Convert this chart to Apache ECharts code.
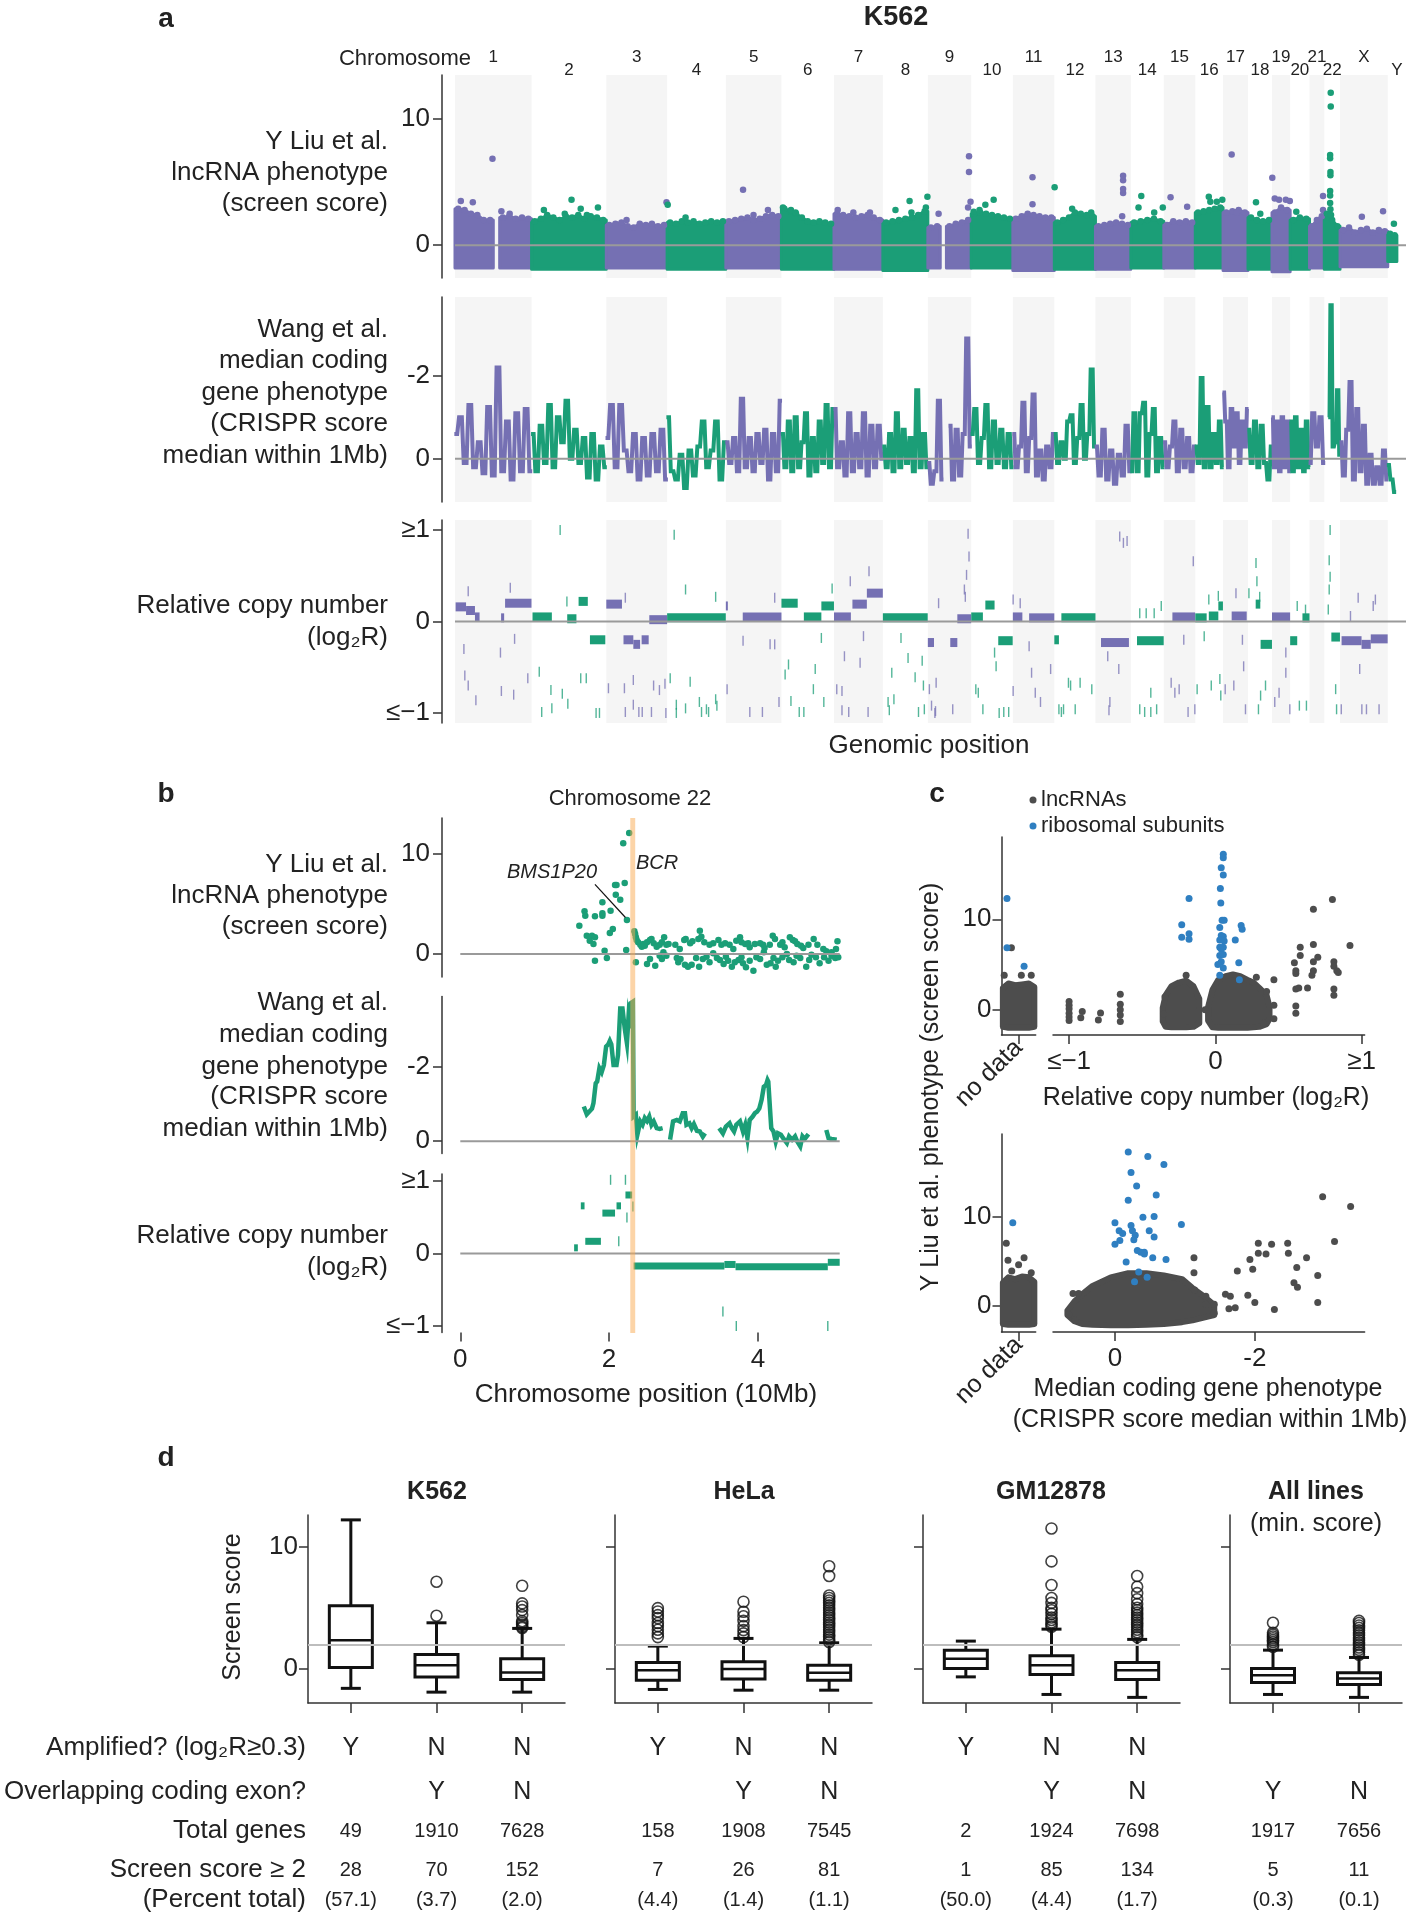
<!DOCTYPE html>
<html><head><meta charset="utf-8">
<script src="https://cdn.jsdelivr.net/npm/echarts@6.0.0/dist/echarts.min.js"></script>
<style>html,body{margin:0;padding:0;background:#fff}#chart{width:1419px;height:1920px}</style>
</head><body><div id="chart"></div>
<script>
// ================= DATA =================
const chrNames = ['1','2','3','4','5','6','7','8','9','10','11','12','13','14','15','16','17','18','19','20','21','22','X','Y'];
const chrLen = [249.3,243.2,198.0,191.2,180.9,171.1,159.1,146.4,141.2,135.5,135.0,133.9,115.2,107.3,102.5,90.4,81.2,78.1,59.1,63.0,48.1,51.3,155.3,59.4];

// (a) Liu lncRNA screen score: upper envelope of the dense point band per chromosome (evenly spaced bins), band floor, and individual points above the band
const liuTop = [
 [2.9,2.8,2.5,2.4,2.0,2.0,null,2.2,2.3,2.1,2.2,2.1],
 [1.9,2.1,2.4,2.2,2.0,2.3,2.2,2.4,2.1,2.3,2.2,2.0],
 [1.6,1.7,1.8,1.5,1.4,1.7,1.6,1.7,1.5,1.6],
 [1.8,1.7,1.9,1.8,1.9,1.7,1.8,1.9,1.8,1.9],
 [1.9,2.0,2.1,2.2,2.0,2.1,2.3,2.4,2.3],
 [2.9,2.7,2.5,2.2,1.9,1.8,1.9,1.8,1.7],
 [2.5,2.4,2.3,2.2,2.3,2.4,2.2,2.0],
 [1.8,1.9,2.0,2.1,2.2,2.4,2.7],
 [1.4,1.5,null,1.5,1.7,1.8,2.0],
 [2.5,2.6,2.5,2.4,2.3,2.2,2.1],
 [2.1,2.3,2.5,2.4,2.3,2.2,2.2],
 [1.8,2.0,2.2,2.6,2.5,2.4,2.3],
 [1.5,1.6,1.7,1.8,1.7,1.6],
 [1.8,1.9,2.0,2.1,1.9],
 [1.6,1.9,1.8,1.9,1.8],
 [2.6,2.7,2.8,2.9,3.0],
 [2.6,2.7,2.8,2.6],
 [2.2,2.0,1.9,2.0],
 [2.6,3.0,2.8],
 [2.0,2.2,2.1],
 [1.5,2.0,2.3],
 [2.5,2.0,1.5],
 [1.2,1.4,1.0,1.2,1.3,1.0,1.2,1.1],
 [0.9,0.8,null,null]
];
const liuBottom = [-1.8,-1.9,-1.8,-1.9,-1.8,-1.9,-1.9,-2.0,-1.8,-1.8,-2.0,-1.9,-1.9,-1.8,-1.8,-1.8,-2.0,-1.9,-2.1,-1.9,-1.8,-1.9,-1.7,-1.3];
const liuPoints = [
 ['1',19,3.5],['1',58,3.4],['1',122,6.85],['1',151,2.7],['1',178,2.5],
 ['2',40,2.8],['2',108,2.5],['2',130,3.6],['2',160,2.9],['2',180,2.4],['2',216,3.0],
 ['3',66,2.0],['3',196,3.4],['4',2,3.2],['4',60,2.2],
 ['5',56,4.4],['5',90,2.4],['5',137,2.8],['6',5,3.0],['6',31,2.8],['6',46,2.6],
 ['7',12,2.8],['7',63,2.6],['7',117,2.6],['8',41,2.8],['8',87,3.5],['8',93,2.6],['8',140,3.0],['8',145,3.85],
 ['9',35,2.5],['9',131,3.0],['9',134,5.8],['9',134,7.05],['9',139,3.45],
 ['10',8,2.65],['10',27,2.8],['10',46,3.2],['10',73,3.6],['11',64,3.25],['11',64,5.4],
 ['12',1,4.6],['12',58,2.9],['12',120,2.6],['13',87,2.3],['13',90,4.15],['13',90,4.45],['13',90,5.15],['13',90,5.5],
 ['14',25,3.0],['14',34,3.9],['14',76,2.6],['14',104,3.0],['15',22,3.8],['15',76,3.05],
 ['16',44,3.85],['16',49,3.45],['16',70,3.45],['16',88,3.6],['17',28,7.2],['17',45,2.6],
 ['18',26,3.4],['18',40,2.5],['19',1,5.35],['19',9,3.7],['19',23,3.6],['19',45,3.6],['19',58,3.5],
 ['20',20,2.65],['21',44,3.9],['21',44,2.8],
 ['22',21,12.1],['22',21,11.0],['22',19,7.15],['22',19,6.9],['22',20,5.8],['22',20,5.55],['22',19,4.3],['22',19,3.95],['22',19,3.35],['22',20,2.85],['22',22,2.4],
 ['X',71,2.25],['X',140,2.7],['Y',20,1.7]
];

// (a) Wang median coding gene phenotype (CRISPR score), values along each chromosome (null = no data)
const wangVals = [
 [-0.6,-1.0,0.1,-1.3,0.2,-0.4,0.35,-1.25,0.4,-2.2,0.3,-0.9,0.5,-1.1,0.3,-1.2,0.3],
 [-0.6,0.3,-0.8,0.1,-1.3,0.2,-1.0,-0.4,-1.4,0.0,-0.7,0.1,-0.5,0.45,-0.6,0.5,-0.3,0.2],
 [-0.5,-1.3,0.2,-1.3,-0.2,0.3,-0.6,0.5,-0.5,0.4,-0.6,0.3,-0.7,0.5],
 [-1.0,0.3,0.5,-0.1,0.7,-0.2,0.4,-0.3,-0.9,0.2,-0.2,-0.9,0.5,-0.4],
 [-0.4,0.1,-0.5,0.3,-1.45,0.2,-0.5,0.3,-0.6,0.1,-0.7,0.5,-0.6,0.3,-1.4],
 [-0.6,0.2,-0.9,0.3,-1.0,0.2,-0.4,-1.1,0.4,-0.5,0.3,-0.9,0.1,-1.3,0.2,-1.2],
 [-1.2,0.2,-0.4,0.4,-1.1,0.3,-0.6,0.2,-1.1,0.4,-0.8,0.2,-0.8,0.0],
 [-0.3,0.2,-0.6,0.3,-1.1,0.2,-0.7,0.1,-0.5,0.3,-1.65,0.2,-0.6,0.2],
 [0.1,0.6,0.3,-1.4,0.5,null,-0.8,0.5,-0.7,0.4,-0.6,-2.9,-0.3],
 [-0.6,-1.2,0.1,-0.5,-1.3,0.2,-0.9,0.1,-0.7,0.2,-0.6,0.2],
 [-0.6,0.2,-0.3,-1.35,0.3,-0.5,-1.55,0.4,-0.2,0.5,-0.3,0.2,-0.6],
 [-0.6,0.1,-0.4,0.0,-0.9,-1.05,0.1,-0.5,-1.3,0.0,-0.6,-2.15,-0.3],
 [-0.3,0.4,-0.7,0.5,-0.2,0.6,-0.1,0.4,-0.8,0.3],
 [0.3,-1.1,0.3,-1.1,-1.35,0.4,-0.6,-1.2,0.3,-0.5,0.2],
 [-0.4,0.2,-0.3,-0.9,0.3,-0.7,0.2,-0.5,0.3,-0.3],
 [-0.3,0.1,-1.95,0.2,-1.25,0.2,-0.6,0.1,-0.9,0.2],
 [-1.6,-0.9,0.2,-1.2,-0.3,-1.1,0.1,-0.9,-0.3,-1.2],
 [-0.7,0.1,-0.9,0.2,-0.8,0.1,0.5,-0.3],
 [-1.0,0.2,-0.9,0.3,-1.0,0.2,-0.9,0.3],
 [-0.9,0.3,-1.0,0.2,-0.7,0.3,-0.9,0.2],
 [0.1,-1.1,-0.3,-1.0,0.1],
 [null,null,-1.0,-3.7,-0.3,-0.4,-1.65,-0.1],
 [-0.4,0.4,-0.7,-1.85,0.5,-1.2,0.3,-0.8,0.6,-0.1,0.6,0.2,0.6,-0.2,0.5],
 [0.15,0.5,0.8,null,null,null]
];

// (a) relative copy number: segments [chr, startMb, endMb, log2R] and short probe ticks [chr, Mb, log2R]
const cnSegs = [
 ['1',2,36,0.16],['1',36,65,0.12],['1',65,80,0.05],['1',150,160,0.04],['1',163,249,0.2],
 ['2',3,66,0.05],['2',116,146,0.03],['2',153,183,0.22],['2',190,240,-0.2],
 ['3',0,51,0.19],['3',56,88,-0.2],['3',88,110,-0.25],['3',115,138,-0.2],['3',140,198,0.02],
 ['4',0,191,0.04],['5',0,5,0.17],['5',55,181,0.05],
 ['6',0,53,0.2],['6',73,130,0.05],['6',130,171,0.17],
 ['7',0,55,0.05],['7',60,107,0.19],['7',107,159,0.31],['8',0,146,0.04],
 ['9',0,20,-0.23],['9',73,96,-0.23],['9',96,141,0.03],
 ['10',0,38,0.05],['10',46,76,0.18],['10',88,135,-0.21],
 ['11',0,31,0.05],['11',53,135,0.04],['12',0,15,-0.2],['12',23,134,0.04],
 ['13',18,109,-0.23],['14',20,107,-0.21],['15',28,102,0.05],
 ['16',0,37,0.04],['16',44,75,0.06],['16',75,90,0.17],['17',28,77,0.06],
 ['18',25,40,0.19],['18',41,78,-0.25],['19',0,59,0.05],['20',0,23,-0.21],['20',40,63,0.04],
 ['22',23,51,-0.17],['X',5,70,-0.21],['X',70,100,-0.25],['X',100,155,-0.19]
];
const cnTicks = [
 ['1',43,0.33],['1',29,-0.3],['1',148,-0.34],['1',194,-0.19],['1',32,-0.59],['1',43,-0.7],['1',68,-0.86],['1',151,-0.76],['1',191,-0.8],['1',237,-0.62],['1',180,0.37],
 ['2',93,1.0],['2',25,-0.55],['2',63,-0.75],['2',100,-0.79],['2',118,-0.9],['2',33,-0.99],['2',66,-0.95],['2',160,-0.62],['2',178,-0.62],['2',210,-1.0],['2',221,-1.0],['2',115,0.22],
 ['3',62,0.26],['3',7,-0.73],['3',59,-0.73],['3',88,-0.64],['3',62,-0.99],['3',88,-0.91],['3',106,-0.99],['3',117,-0.99],['3',147,-0.99],['3',154,-0.7],['3',173,-0.75],['3',191,-0.68],['3',194,-1.0],
 ['4',23,0.95],['4',10,-0.62],['4',30,-0.91],['4',60,0.35],['4',75,-0.66],['4',105,-0.88],['4',112,-0.99],['4',60,-0.95],['4',30,-1.0],['4',158,0.27],['4',158,-0.85],['4',128,-0.96],['4',162,-0.92],['4',135,-0.99],
 ['5',4,-0.74],['5',56,-0.21],['5',144,-0.25],['5',159,-0.25],['5',78,-0.99],['5',119,-0.99],['5',159,0.26],['5',173,-0.88],
 ['6',23,-0.47],['6',12,-0.58],['6',31,-0.87],['6',58,-0.99],['6',73,-0.99],['6',104,-0.74],['6',110,-0.52],['6',130,-0.18],['6',165,0.36],['6',138,-0.88],
 ['7',9,-0.74],['7',26,-0.76],['7',34,-0.38],['7',53,0.44],['7',85,-0.45],['7',96,-0.16],['7',26,-0.97],['7',48,-0.99],['7',114,0.55],['7',111,-0.99],
 ['8',17,-0.88],['8',29,-0.56],['8',21,-0.97],['8',36,-0.85],['8',59,-0.18],['8',82,-0.4],['8',105,-0.61],['8',128,-0.43],['8',132,-0.7],['8',116,-0.99],['8',135,-0.96],
 ['9',5,-0.74],['9',12,-0.92],['9',23,-1.0],['9',25,-0.98],['9',27,-0.67],['9',35,0.2],['9',81,-0.96],['9',119,0.35],['9',131,0.96],['9',134,0.71],['9',126,0.51],['9',122,0.27],
 ['10',15,-0.74],['10',23,-0.78],['10',38,-0.96],['10',76,-0.34],['10',81,-0.49],['10',91,-1.0],['10',106,-0.99],['10',122,-0.99],
 ['11',1,0.24],['11',1,-0.76],['11',24,0.2],['11',53,-0.27],['11',73,-0.78],['11',61,-0.56],['11',90,-0.88],['11',123,-0.52],
 ['12',15,-0.96],['12',23,-0.99],['12',46,-0.67],['12',53,-0.7],['12',68,-0.96],['12',84,-0.67],['12',30,-0.96],['12',122,-0.74],
 ['13',79,0.93],['13',91,0.86],['13',103,0.88],['13',47,-0.88],['13',76,-0.52],['13',44,-0.97],['13',40,-0.38],
 ['14',29,0.09],['14',50,0.09],['14',76,0.09],['14',99,0.17],['14',65,-0.78],['14',29,-0.96],['14',45,-0.99],['14',65,-0.99],['14',84,-0.96],
 ['15',24,-0.67],['15',50,-0.74],['15',65,-0.2],['15',79,-0.99],['15',96,0.66],['15',101,-0.96],['15',36,-0.78],
 ['16',6,-0.74],['16',29,-0.16],['16',44,0.24],['16',52,-0.7],['16',75,0.28],['16',80,-0.63],['16',83,-0.81],
 ['17',7,-0.74],['17',35,-0.7],['17',42,0.31],['17',63,-0.2],['17',67,-0.49],['17',73,-0.96],
 ['18',26,0.64],['18',29,0.44],['18',38,0.27],['18',3,0.31],['18',41,-0.81],['18',57,-0.7],['18',34,-0.96],
 ['19',9,-0.88],['19',23,-0.78],['19',45,-0.34],['19',45,-0.56],['19',58,-0.96],
 ['20',23,0.17],['20',30,-0.92],['20',50,0.13],['20',53,-0.92],
 ['22',19,1.0],['22',16,0.67],['22',19,0.49],['22',16,0.35],['22',13,0.13],['22',37,-0.74],['22',40,-0.96],
 ['X',34,0.06],['X',59,0.26],['X',71,-0.96],['X',86,-0.96],['X',108,0.17],['X',115,0.24],['X',127,-0.96],['X',64,-0.52],['X',4,-0.96]
];

// (b) chromosome 22, position in 10Mb
const bLiu = [
 [2.27,12.1],[2.19,11.07],[2.21,7.1],[2.08,6.9],[2.10,6.9],[2.09,5.93],[2.15,5.43],[1.91,5.17],[1.67,4.27],[1.68,3.83],[1.81,3.77],[1.91,3.83],[1.91,4.07],[2.02,4.33],[2.24,3.4],[1.60,2.83],[2.05,2.5],[2.01,2.1],[1.70,1.83],[1.77,1.83],[1.81,1.67],[1.74,1.33],[1.79,1.0],[1.94,0.33],[2.23,0.4],[1.97,-0.4],[1.81,-0.67],
 [2.34,2.27],[2.35,2.0],[2.36,1.67],[2.37,1.4],[2.39,1.17],[2.42,0.93],[2.44,0.73],[2.46,1.0],[2.48,0.83],[2.51,1.17],[2.55,1.4],[2.57,1.5],[2.60,1.07],[2.64,0.73],[2.68,0.93],[2.71,1.17],[2.74,1.67],[2.77,0.93],[2.80,1.0],[2.89,0.93],[2.95,0.5],[3.01,1.4],[3.03,1.5],[3.09,1.07],[3.12,1.27],[3.20,1.5],[3.22,2.33],[3.24,1.73],[3.28,1.17],[3.35,0.93],[3.40,1.07],[3.47,1.4],[3.51,0.93],[3.56,1.07],[3.62,0.93],[3.67,0.5],[3.71,1.33],[3.76,1.67],[3.78,1.17],[3.83,1.0],[3.87,1.07],[3.89,0.67],[3.96,1.0],[4.03,1.07],[4.07,0.93],[4.09,0.6],[4.16,0.93],[4.20,1.83],[4.23,1.5],[4.30,0.93],[4.33,1.17],[4.36,0.67],[4.43,1.67],[4.47,1.4],[4.50,1.27],[4.53,1.0],[4.58,0.83],[4.61,0.6],[4.68,0.93],[4.75,1.5],[4.80,0.93],[4.88,0.5],[4.92,0.27],[4.99,0.17],[5.05,0.5],[5.07,1.27],
 [2.36,-0.83],[2.51,-1.0],[2.55,-0.5],[2.62,-1.17],[2.68,-0.17],[2.71,-0.5],[2.73,0.17],[2.77,-0.17],[2.91,-0.4],[2.93,-0.83],[2.96,-0.5],[3.02,-1.07],[3.06,-1.27],[3.11,-1.07],[3.17,-0.4],[3.21,-1.27],[3.26,-0.5],[3.31,-0.27],[3.35,-0.83],[3.40,0.07],[3.45,-0.4],[3.49,-0.6],[3.54,-1.0],[3.57,-0.27],[3.60,-0.67],[3.65,-1.27],[3.69,-0.83],[3.74,-0.6],[3.78,-0.33],[3.80,-0.93],[3.84,-1.33],[3.89,-0.67],[3.94,-1.67],[3.98,-0.33],[4.03,-0.5],[4.08,0.17],[4.12,-1.07],[4.17,-0.93],[4.21,-0.4],[4.24,-1.27],[4.27,-0.67],[4.33,-0.33],[4.39,0.0],[4.42,-0.6],[4.48,-0.83],[4.52,-0.17],[4.57,-0.4],[4.65,-1.27],[4.69,-0.6],[4.72,-0.07],[4.78,-0.33],[4.83,-0.93],[4.89,-0.33],[4.95,-0.67],[4.99,-0.17],[5.04,-0.4],[5.08,-0.33]
];
const bWang = [[1.66,-0.93],[1.70,-0.72],[1.77,-0.87],[1.79,-1.02],[1.82,-1.55],[1.84,-1.6],[1.87,-1.96],[1.90,-1.85],[1.93,-2.04],[1.96,-2.54],[1.99,-2.6],[2.01,-2.69],[2.03,-2.6],[2.06,-2.04],[2.10,-2.04],[2.12,-2.31],[2.15,-3.56],[2.18,-3.56],[2.21,-3.03],[2.24,-2.63],[2.26,-3.29],[2.28,-3.03],[2.29,-3.7],[2.32,-3.74],[2.33,-0.66],[2.36,-0.71],[2.38,-0.17],[2.42,-0.53],[2.45,-0.44],[2.48,-0.62],[2.51,-0.54],[2.54,-0.66],[2.57,-0.44],[2.60,-0.53],[2.64,-0.35],[2.68,-0.33],[2.72,-0.35],null,
 [2.82,-0.04],[2.86,-0.53],[2.91,-0.57],[2.95,-0.53],[2.99,-0.75],[3.02,-0.75],[3.04,-0.44],[3.08,-0.48],[3.11,-0.35],[3.14,-0.46],[3.18,-0.28],[3.22,-0.26],[3.26,-0.12],[3.29,-0.21],null,
 [3.48,-0.35],[3.53,-0.21],[3.57,-0.39],[3.62,-0.48],[3.65,-0.35],[3.68,-0.26],[3.71,-0.44],[3.76,-0.53],[3.80,-0.26],[3.83,-0.44],[3.86,-0.08],[3.89,-0.57],[3.93,-0.66],[3.96,-0.75],[3.99,-0.79],[4.02,-0.88],[4.05,-1.11],[4.08,-1.46],[4.11,-1.51],[4.13,-1.64],[4.14,-1.6],[4.16,-0.97],[4.18,-0.35],[4.21,-0.26],[4.24,0.01],[4.27,-0.21],[4.31,-0.17],[4.34,-0.08],[4.39,0.05],[4.42,-0.13],[4.46,-0.04],[4.50,-0.13],[4.53,0.01],[4.57,0.14],[4.60,-0.13],[4.63,-0.06],[4.68,-0.19],null,
 [4.92,-0.3],[4.95,-0.08],[4.99,-0.06],[5.06,-0.04]];
const bCnSegs = [[1.53,1.58,0.08],[1.68,1.89,0.17],[1.62,1.67,0.66],[1.91,2.08,0.56],[2.10,2.16,0.66],[2.22,2.31,0.81],[2.33,3.55,-0.17],[3.55,3.70,-0.15],[3.70,4.94,-0.18],[4.94,5.10,-0.12]];
const bCnTicks = [[2.02,1.02],[2.22,1.02],[2.13,0.17],[2.24,0.5],[2.32,0.65],[3.53,-0.8],[3.71,-1.0],[4.94,-1.0]];
const bcrPos = 2.318;
const bms1Label = [[1.81,6.97],[2.22,3.65]];

// (c) scatter: dense clusters as [x, top, bottom] columns, plus individual points
const cTopNoDataCluster = [[[0.04,2.4,-1.9],[0.2,2.9,-2.0],[0.4,2.7,-2.0],[0.6,2.8,-2.0],[0.8,2.9,-2.0],[0.96,2.5,-1.9]]];
const cTopNoDataGray = [[0.08,3.8],[0.58,3.8],[0.87,3.8],[0.29,6.85]];
const cTopNoDataBlue = [[0.16,12.3],[0.16,6.85],[0.66,4.8]];
const cTopClusters = [
 [[-0.36,0.2,-1.3],[-0.34,1.6,-1.9],[-0.3,2.6,-1.95],[-0.25,3.0,-1.95],[-0.2,3.2,-1.95],[-0.15,2.6,-1.9],[-0.11,1.2,-1.5]],
 [[-0.05,0.3,-1.2],[-0.02,2.2,-1.95],[0.02,3.3,-2.0],[0.07,3.7,-2.0],[0.12,3.9,-2.0],[0.17,3.7,-2.0],[0.22,3.3,-2.0],[0.26,3.0,-1.95],[0.3,2.4,-1.9],[0.35,1.6,-1.6],[0.37,0.3,-1.0]]
];
const cTopGray = [[-1.0,0.9],[-1.0,0.5],[-1.0,0.1],[-1.0,-0.4],[-1.0,-0.8],[-1.0,-1.2],[-0.91,-0.2],[-0.92,-0.9],[-0.8,-1.15],[-0.785,-0.36],[-0.65,1.7],[-0.65,0.6],[-0.65,0.0],[-0.65,-0.6],[-0.65,-1.3],[-0.345,1.4],[-0.355,-0.46],[-0.07,0.0],[-0.2,3.8],[0.4,3.3],[0.4,0.5],[0.4,-1.0],[0.55,-0.4],[0.55,0.4],[0.55,2.3],[0.57,2.4],[0.55,4.0],[0.55,4.3],[0.54,5.2],[0.58,6.0],[0.58,6.9],[0.63,2.4],[0.67,11.1],[0.67,7.2],[0.67,5.3],[0.67,4.3],[0.66,3.8],[0.70,5.8],[0.80,12.2],[0.81,5.3],[0.81,4.8],[0.83,4.3],[0.81,2.3],[0.81,1.6],[0.84,4.1],[0.92,7.1],[0.28,3.6],[0.35,2.0],[0.33,-1.5]];
const cTopBlue = [[0.054,17.2],[0.054,16.8],[0.04,15.7],[0.054,14.9],[0.034,13.4],[0.037,11.8],[-0.18,12.3],[0.046,9.9],[0.06,9.9],[0.03,9.1],[0.176,9.3],[0.183,8.9],[-0.23,9.4],[-0.23,8.0],[-0.18,8.4],[-0.18,7.8],[0.04,8.2],[0.054,8.1],[0.03,7.7],[0.06,7.6],[0.136,7.7],[0.03,6.9],[0.04,6.7],[0.054,6.9],[0.03,6.0],[0.054,6.1],[0.04,5.3],[0.017,5.0],[0.054,4.6],[0.03,3.8],[0.16,5.2],[0.164,3.3]];
const cBotNoDataCluster = [[[0.04,2.6,-2.0],[0.2,3.2,-2.1],[0.4,3.0,-2.1],[0.6,3.3,-2.1],[0.8,3.2,-2.1],[0.96,2.7,-2.0]]];
const cBotNoDataGray = [[0.14,7.0],[0.19,5.1],[0.66,5.4],[0.5,4.6],[0.3,3.9],[0.87,3.7]];
const cBotNoDataBlue = [[0.33,9.3]];
const cBotClusters = [[[0.68,-0.5,-1.0],[0.58,0.5,-1.7],[0.47,1.3,-2.0],[0.32,2.25,-2.1],[0.06,3.2,-2.15],[-0.19,3.66,-2.15],[-0.45,3.66,-2.1],[-0.7,3.4,-2.0],[-0.96,3.0,-1.8],[-1.11,2.0,-1.6],[-1.27,1.1,-1.3],[-1.42,0.1,-1.0]]];
const cBotGray = [[0.66,-0.94],[0.57,-1.6],[0.60,1.4],[0.52,1.4],[-1.13,5.4],[-1.13,3.7],[-1.14,1.8],[-1.3,1.1],[-1.3,0.2],[-1.42,0.2],[-1.42,-0.8],[-1.58,1.3],[-1.65,1.1],[-1.63,-0.3],[-1.72,-0.2],[-1.75,3.9],[-1.9,1.2],[-1.93,5.2],[-1.97,4.1],[-2.0,0.4],[-2.05,7.0],[-2.05,5.9],[-2.16,5.8],[-2.24,6.9],[-2.28,-0.4],[-2.47,7.0],[-2.48,5.9],[-2.6,4.3],[-2.56,2.6],[-2.61,2.1],[-2.74,5.4],[-2.9,3.4],[-2.9,0.4],[-2.97,12.2],[-3.14,7.2],[-3.37,11.1]];
const cBotBlue = [[-0.19,17.2],[-0.47,16.7],[-0.70,15.8],[-0.23,14.9],[-0.31,13.4],[-0.59,12.4],[-0.19,11.8],[-0.40,9.9],[-0.56,10.0],[0.0,9.3],[-0.95,9.1],[-0.23,9.0],[-0.25,8.4],[-0.29,7.9],[-0.27,7.4],[-0.06,8.4],[-0.11,8.1],[-0.49,8.4],[-0.56,7.7],[-0.07,7.3],[0.0,6.9],[-0.32,6.2],[-0.37,6.0],[-0.42,6.0],[-0.42,5.8],[-0.54,5.4],[-0.73,5.2],[-0.16,4.9],[-0.34,3.8],[-0.46,3.2],[-0.28,2.7]];

// (d) box plots [min, q1, median, q3, max] and outliers
const dTitles = ['K562','HeLa','GM12878','All lines'];
const dBoxes = [
 [[-1.6,0.1,2.35,5.16,12.2],[-1.91,-0.66,0.30,1.18,3.77],[-1.91,-0.87,-0.3,0.82,3.31]],
 [[-1.69,-0.93,-0.11,0.52,1.86],[-1.75,-0.84,-0.02,0.58,2.49],[-1.75,-0.93,-0.33,0.30,2.13]],
 [[-0.66,0.03,0.82,1.53,2.27],[-2.1,-0.46,0.30,1.07,3.25],[-2.34,-0.87,-0.11,0.52,2.41]],
 [[-2.1,-1.12,-0.52,0.03,1.53],[-2.34,-1.28,-0.79,-0.33,0.93]]
];
const dOutliers = [
 [[],[7.13,4.35],[6.8,5.36,5.1,4.81,4.4,3.9,3.75,3.6,3.45,3.35]],
 [[4.97,4.7,4.4,4.15,3.75,3.5,3.2,2.9,2.6],[5.5,4.67,4.3,3.93,3.5,3.17,2.9,2.6],[8.4,7.6,6.0,5.8,5.6,5.4,5.2,5.0,4.8,4.6,4.4,4.2,4.0,3.8,3.6,3.4,3.2,3.0,2.8,2.6,2.4,2.2]],
 [[],[11.5,8.8,6.86,5.8,5.4,5.0,4.8,4.5,4.2,4.0,3.8,3.6,3.45],[7.6,6.72,6.2,5.7,5.3,5.0,4.8,4.6,4.4,4.2,4.0,3.8,3.6,3.4,3.2,3.0,2.8,2.6]],
 [[3.77,2.95,2.8,2.65,2.5,2.35,2.2,2.0,1.8],[3.93,3.75,3.55,3.35,3.15,2.95,2.75,2.55,2.35,2.15,1.95,1.75,1.55,1.35,1.15]]
];
const dAmp = [['Y','N','N'],['Y','N','N'],['Y','N','N'],['','']];
const dExon = [['','Y','N'],['','Y','N'],['','Y','N'],['Y','N']];
const dTotal = [[49,1910,7628],[158,1908,7545],[2,1924,7698],[1917,7656]];
const dHits = [[28,70,152],[7,26,81],[1,85,134],[5,11]];
const dPct = [['57.1','3.7','2.0'],['4.4','1.4','1.1'],['50.0','4.4','1.7'],['0.3','0.1']];
const dThreshold = 2;

// ================= CHART =================
const PURPLE='#7570b3', GREEN='#1b9e77', DGRAY='#4d4d4d', BLUE='#2f7fc1', TXT='#222', AX='#333';
const F='"Liberation Sans", Arial, Helvetica, sans-serif';
const chrStart=[]; {let s=0; chrLen.forEach(l=>{chrStart.push(s); s+=l;});}
const genomeLen = chrStart[23]+chrLen[23];
const ci = n => chrNames.indexOf(n);
const chrColor = i => (i%2===0?PURPLE:GREEN);

const grids = [
 {left:442, top:75, width:964, height:203},
 {left:442, top:297, width:964, height:205},
 {left:442, top:520, width:964, height:203},
 {left:442, top:818, width:397.7, height:159},
 {left:442, top:996.5, width:397.7, height:157},
 {left:442, top:1174, width:397.7, height:158.5},
 {left:1001.5, top:837, width:34.2, height:198},
 {left:1053, top:837, width:311.6, height:198},
 {left:1001.5, top:1134, width:34.2, height:198},
 {left:1053, top:1134, width:311.6, height:198},
 {left:308, top:1515, width:257, height:188},
 {left:615, top:1515, width:257, height:188},
 {left:923, top:1515, width:257, height:188},
 {left:1230, top:1515, width:172, height:188}
].map(g=>Object.assign(g,{containLabel:false, outerBoundsMode:'none'}));

const lineSt = {color:AX, width:1.5};
function hiddenX(gi,min,max,extra){ return Object.assign({type:'value',gridIndex:gi,min,max,show:false},extra||{}); }
function valAxis(gi,min,max,ticks,opts){
  opts=opts||{};
  return Object.assign({type:'value', gridIndex:gi, min, max, splitLine:{show:false},
    axisLine:{show:true,onZero:false,lineStyle:lineSt},
    axisTick:{show:true,length:9,customValues:ticks,lineStyle:lineSt},
    axisLabel:{show:opts.labels!==false, customValues:ticks, fontSize:opts.fs||26, fontFamily:F, color:TXT, margin:opts.margin||12, formatter:opts.fmt, rotate:opts.rotate||0}
  }, opts.extra||{});
}
const cnFmt = v => v>=1?'≥1':(v<=-1?'≤−1':'0');

const xAxes = [
 hiddenX(0,-42.3,genomeLen), hiddenX(1,-42.3,genomeLen), hiddenX(2,-42.3,genomeLen),
 hiddenX(3,-0.246,5.1), hiddenX(4,-0.246,5.1),
 {type:'value',gridIndex:5,min:-0.246,max:5.1,splitLine:{show:false},axisLine:{show:false,onZero:false},
  axisTick:{show:true,length:9,customValues:[0,2,4],lineStyle:{color:AX,width:1.5}},
  axisLabel:{customValues:[0,2,4],fontSize:26,fontFamily:F,color:TXT,margin:14}},
 valAxis(6,0,1,[0.5],{fs:25,margin:9,rotate:45,fmt:()=>'no data'}),
 valAxis(7,-1.11,1.02,[-1,0,1],{fs:26,margin:14,fmt:cnFmt}),
 valAxis(8,0,1,[0.5],{fs:25,margin:9,rotate:45,fmt:()=>'no data'}),
 valAxis(9,-3.57,0.886,[0,-2],{fs:26,margin:14,extra:{inverse:true}}),
];
[10,11,12,13].forEach((gi,p)=>{
  xAxes.push({type:'category',gridIndex:gi,data:dBoxes[p].map((b,k)=>'c'+k),boundaryGap:true,
    axisLine:{show:true,onZero:false,lineStyle:lineSt},axisTick:{show:true,alignWithLabel:true,length:10,lineStyle:lineSt},
    axisLabel:{show:false},splitLine:{show:false}});
});
const yAxes = [
 valAxis(0,-2.6,13.5,[0,10]),
 valAxis(1,-3.9,1.04,[-2,0],{extra:{inverse:true}}),
 valAxis(2,-1.11,1.11,[-1,0,1],{fmt:cnFmt}),
 valAxis(3,-2.3,13.6,[0,10]),
 valAxis(4,-3.88,0.33,[-2,0],{extra:{inverse:true}}),
 valAxis(5,-1.09,1.10,[-1,0,1],{fmt:cnFmt}),
 valAxis(6,-2.8,19.1,[0,10],{margin:10}),
 {type:'value',gridIndex:7,min:-2.8,max:19.1,show:false},
 valAxis(8,-2.9,19.2,[0,10],{margin:10}),
 {type:'value',gridIndex:9,min:-2.9,max:19.2,show:false},
 valAxis(10,-2.8,12.6,[0,10],{margin:10}),
 valAxis(11,-2.8,12.6,[0,10],{labels:false}),
 valAxis(12,-2.8,12.6,[0,10],{labels:false}),
 valAxis(13,-2.8,12.6,[0,10],{labels:false})
];

const series = [];
function ax(gi){ return {xAxisIndex:gi, yAxisIndex:gi}; }
function custom(gi, data, renderItem, z){ return Object.assign({type:'custom', silent:true, animation:false, clip:false, encode:{x:0,y:1}, z:z||2, data, renderItem}, ax(gi)); }
function zeroLine(gi,x0,x1){ return Object.assign({type:'line',data:[[x0,0],[x1,0]],symbol:'none',silent:true,z:6,lineStyle:{color:'#9a9a9a',width:2},animation:false},ax(gi)); }
function scatter(gi,data,color,size,z){ return Object.assign({type:'scatter',data,symbolSize:size,itemStyle:{color,opacity:1},silent:true,z:z||3,animation:false},ax(gi)); }

// ---- panel a: chromosome shading
[0,1,2].forEach(gi=>{
  const data=[]; chrNames.forEach((c,i)=>{ if(i%2===0) data.push([chrStart[i],0,i]); });
  series.push(custom(gi,data,(p,api)=>{ const i=api.value(2), cs=p.coordSys;
    const x0=api.coord([chrStart[i],0])[0], x1=api.coord([chrStart[i]+chrLen[i],0])[0];
    return {type:'rect',shape:{x:x0,y:cs.y,width:x1-x0,height:cs.height},style:{fill:'#f5f5f5'}}; },0));
});
// chromosome labels
series.push(custom(0, chrNames.map((c,i)=>[chrStart[i]+chrLen[i]/2,0,i]), (p,api)=>{
  const i=api.value(2), x=api.coord([api.value(0),0])[0];
  return {type:'text',x,y:(i%2===0?57:70),style:{text:chrNames[i],font:`17px ${F}`,fill:TXT,align:'center',verticalAlign:'middle'}}; }));

// Liu band polygons
const bandSegs=[];
liuTop.forEach((tops,i)=>{ const w=chrLen[i]/tops.length; let cur=null;
  tops.forEach((t,j)=>{ if(t==null){ if(cur){bandSegs.push(cur);cur=null;} return; }
    if(!cur) cur={chr:i,cols:[]}; cur.cols.push([chrStart[i]+j*w, chrStart[i]+(j+1)*w, t]); });
  if(cur) bandSegs.push(cur); });
series.push(custom(0, bandSegs.map((s,k)=>[s.cols[0][0],0,k]), (p,api)=>{
  const s=bandSegs[api.value(2)], b=liuBottom[s.chr], c=s.cols, L=c[c.length-1];
  const pts=[api.coord([c[0][0],b]), api.coord([c[0][0],c[0][2]])];
  c.forEach(v=>pts.push(api.coord([(v[0]+v[1])/2,v[2]])));
  pts.push(api.coord([L[1],L[2]])); pts.push(api.coord([L[1],b]));
  return {type:'polygon',shape:{points:pts},style:{fill:chrColor(s.chr),stroke:chrColor(s.chr),lineWidth:3,lineJoin:'round'}}; },2));
// edge dots + points above band
const liuDots=[[],[]];
bandSegs.forEach(s=>s.cols.forEach(v=>liuDots[s.chr%2].push([(v[0]+v[1])/2,v[2]])));
liuPoints.forEach(q=>{ const i=ci(q[0]); liuDots[i%2].push([chrStart[i]+q[1],q[2]]); });
series.push(scatter(0,liuDots[0],PURPLE,6.5)); series.push(scatter(0,liuDots[1],GREEN,6.5));
series.push(zeroLine(0,0,genomeLen));

// Wang step lines (each window value drawn as a short plateau joined by vertical strokes)
function makeSegs(list){ const segs=[]; let cur=[]; list.forEach(v=>{ if(v==null){ if(cur.length) segs.push(cur); cur=[]; } else cur.push(v); }); if(cur.length) segs.push(cur); return segs; }
const wangSegs=[];
wangVals.forEach((vals,i)=>{ const n=vals.length; const step=0.98*chrLen[i]/Math.max(1,n-1);
  const pts=vals.map((v,j)=> v==null?null:[chrStart[i]+(0.01+0.98*(n>1?j/(n-1):0.5))*chrLen[i], v]);
  makeSegs(pts).forEach(s=>wangSegs.push({chr:i,pts:s,half:step*0.3})); });
series.push(custom(1, wangSegs.map((s,k)=>[s.pts[0][0],s.pts[0][1],k]), (p,api)=>{
  const s=wangSegs[api.value(2)]; const pts=[];
  s.pts.forEach(v=>{ pts.push(api.coord([v[0]-s.half,v[1]])); pts.push(api.coord([v[0]+s.half,v[1]])); });
  return {type:'polyline',shape:{points:pts},style:{stroke:chrColor(s.chr),lineWidth:4,fill:null,lineJoin:'miter'}}; },3));
series.push(zeroLine(1,0,genomeLen));

// copy number
series.push(custom(2, cnSegs.map((s,k)=>[chrStart[ci(s[0])]+s[1],s[3],k]), (p,api)=>{
  const s=cnSegs[api.value(2)], i=ci(s[0]);
  const a=api.coord([chrStart[i]+s[1],s[3]]), b=api.coord([chrStart[i]+s[2],s[3]]);
  return {type:'rect',shape:{x:a[0],y:a[1]-4.5,width:Math.max(2,b[0]-a[0]),height:9},style:{fill:chrColor(i)}}; },3));
series.push(custom(2, cnTicks.map((s,k)=>[chrStart[ci(s[0])]+s[1],s[2],k]), (p,api)=>{
  const s=cnTicks[api.value(2)], i=ci(s[0]); const a=api.coord([chrStart[i]+s[1],s[2]]);
  return {type:'line',shape:{x1:a[0],y1:a[1]-5,x2:a[0],y2:a[1]+5},style:{stroke:chrColor(i),lineWidth:1.4,opacity:0.75}}; },3));
series.push(zeroLine(2,0,genomeLen));

// ---- panel b
series.push(scatter(3,bLiu,GREEN,6.5,3));
series.push(zeroLine(3,0,5.1));
series.push(Object.assign({type:'line',data:bms1Label,symbol:'none',silent:true,z:7,lineStyle:{color:'#111',width:1.2},animation:false},ax(3)));
const bWangSegs = makeSegs(bWang);
series.push(custom(4, bWangSegs.map((s,k)=>[s[0][0],s[0][1],k]), (p,api)=>{
  const s=bWangSegs[api.value(2)];
  return {type:'polyline',shape:{points:s.map(v=>api.coord(v))},style:{stroke:GREEN,lineWidth:4.5,fill:null}}; },3));
series.push(zeroLine(4,0,5.1));
series.push(custom(5, bCnSegs.map((s,k)=>[s[0],s[2],k]), (p,api)=>{
  const s=bCnSegs[api.value(2)]; const a=api.coord([s[0],s[2]]), b=api.coord([s[1],s[2]]);
  return {type:'rect',shape:{x:a[0],y:a[1]-3.5,width:Math.max(2,b[0]-a[0]),height:7},style:{fill:GREEN}}; },3));
series.push(custom(5, bCnTicks.map((s,k)=>[s[0],s[1],k]), (p,api)=>{
  const s=bCnTicks[api.value(2)]; const a=api.coord(s);
  return {type:'line',shape:{x1:a[0],y1:a[1]-5,x2:a[0],y2:a[1]+5},style:{stroke:GREEN,lineWidth:1.4,opacity:0.8}}; },3));
series.push(zeroLine(5,0,5.1));
series.push(custom(3, [[bcrPos,0]], (p,api)=>{
  const x0=api.coord([bcrPos-0.033,0])[0], x1=api.coord([bcrPos+0.033,0])[0], y0=p.coordSys.y;
  return {type:'rect',shape:{x:x0,y:y0,width:x1-x0,height:1333-y0},style:{fill:'rgba(250,170,80,0.5)'}}; },10));

// ---- panel c
function clusterSeries(gi,clusters){
  return custom(gi, clusters.map((c,k)=>[c[0][0],c[0][1],k]), (p,api)=>{
    const c=clusters[api.value(2)], pts=[];
    c.forEach(v=>pts.push(api.coord([v[0],v[1]])));
    for(let j=c.length-1;j>=0;j--) pts.push(api.coord([c[j][0],c[j][2]]));
    return {type:'polygon',shape:{points:pts},style:{fill:DGRAY,stroke:DGRAY,lineWidth:6,lineJoin:'round'}}; },2);
}
series.push(clusterSeries(6,cTopNoDataCluster)); series.push(scatter(6,cTopNoDataGray,DGRAY,7)); series.push(scatter(6,cTopNoDataBlue,BLUE,7,4));
series.push(clusterSeries(7,cTopClusters)); series.push(scatter(7,cTopGray,DGRAY,7)); series.push(scatter(7,cTopBlue,BLUE,7,4));
series.push(clusterSeries(8,cBotNoDataCluster)); series.push(scatter(8,cBotNoDataGray,DGRAY,7)); series.push(scatter(8,cBotNoDataBlue,BLUE,7,4));
series.push(clusterSeries(9,cBotClusters)); series.push(scatter(9,cBotGray,DGRAY,7)); series.push(scatter(9,cBotBlue,BLUE,7,4));

// ---- panel d
[10,11,12,13].forEach((gi,p)=>{
  series.push(custom(gi, dBoxes[p].map((b,k)=>[k].concat(b)), (prm,api)=>{
    const k=api.value(0); const y=j=>api.coord([k,api.value(j)])[1]; const x=api.coord([k,0])[0];
    const yMin=y(1),yQ1=y(2),yMed=y(3),yQ3=y(4),yMax=y(5), bw=43, cw=20, st={stroke:'#111',lineWidth:3};
    return {type:'group',children:[
      {type:'line',shape:{x1:x,y1:yMax,x2:x,y2:yQ3},style:st},
      {type:'line',shape:{x1:x,y1:yQ1,x2:x,y2:yMin},style:st},
      {type:'line',shape:{x1:x-cw/2,y1:yMax,x2:x+cw/2,y2:yMax},style:st},
      {type:'line',shape:{x1:x-cw/2,y1:yMin,x2:x+cw/2,y2:yMin},style:st},
      {type:'rect',shape:{x:x-bw/2,y:yQ3,width:bw,height:yQ1-yQ3},style:{fill:'none',stroke:'#111',lineWidth:3}},
      {type:'line',shape:{x1:x-bw/2,y1:yMed,x2:x+bw/2,y2:yMed},style:{stroke:'#111',lineWidth:2.5}}
    ]}; },4));
  const od=[]; dOutliers[p].forEach((arr,k)=>arr.forEach(v=>od.push([k,v])));
  series.push(Object.assign({type:'scatter',data:od,symbol:'circle',symbolSize:11,silent:true,z:5,animation:false,
    itemStyle:{color:'rgba(255,255,255,0)',borderColor:'#111',borderWidth:1.6},
    markLine:{silent:true,symbol:'none',label:{show:false},animation:false,lineStyle:{color:'#bdbdbd',width:2,type:'solid'},data:[{yAxis:dThreshold}]}},ax(gi)));
  series.push(custom(gi, dTotal[p].map((t,k)=>[k,0,k]), (prm,api)=>{
    const k=api.value(2), x=api.coord([k,0])[0];
    const t=(text,y,size)=>({type:'text',x,y,style:{text:String(text),font:`${size}px ${F}`,fill:TXT,align:'center',verticalAlign:'middle'}});
    return {type:'group',children:[t(dAmp[p][k],1748,25),t(dExon[p][k],1792,25),t(dTotal[p][k],1831,20),t(dHits[p][k],1870,20),t('('+dPct[p][k]+')',1900,20)]}; },5));
});

// ---- texts
function T(text,x,y,o){ o=o||{}; return {type:'text',x,y,rotation:o.rot||0,silent:true,z:20,
  style:{text,fill:TXT,font:`${o.st||''} ${o.w||''} ${o.size||26}px ${F}`.trim(),align:o.align||'center',verticalAlign:'middle'}}; }
const R = (text,x,y)=>T(text,x,y,{align:'right'});
const graphics = [
 T('a',166,19,{w:'bold',size:28}), T('K562',896,18,{w:'bold',size:27}),
 T('Chromosome',471,59,{align:'right',size:22}),
 R('Y Liu et al.',388,142), R('lncRNA phenotype',388,173), R('(screen score)',388,204),
 R('Wang et al.',388,330), R('median coding',388,361), R('gene phenotype',388,393), R('(CRISPR score',388,424), R('median within 1Mb)',388,456),
 R('Relative copy number',388,606), R('(log₂R)',388,638),
 T('Genomic position',929,746),
 T('b',166,794,{w:'bold',size:28}), T('Chromosome 22',630,799,{size:22}),
 R('Y Liu et al.',388,865), R('lncRNA phenotype',388,896), R('(screen score)',388,927),
 R('Wang et al.',388,1003), R('median coding',388,1035), R('gene phenotype',388,1067), R('(CRISPR score',388,1097), R('median within 1Mb)',388,1129),
 R('Relative copy number',388,1236), R('(log₂R)',388,1268),
 T('Chromosome position (10Mb)',646,1395),
 T('BMS1P20',597,872,{align:'right',st:'italic',size:20}), T('BCR',636,863,{align:'left',st:'italic',size:20}),
 T('c',937,794,{w:'bold',size:28}),
 {type:'circle',shape:{cx:1033,cy:800,r:3.5},style:{fill:DGRAY},silent:true},
 {type:'circle',shape:{cx:1033,cy:826,r:3.5},style:{fill:BLUE},silent:true},
 T('lncRNAs',1041,800,{align:'left',size:22}), T('ribosomal subunits',1041,826,{align:'left',size:22}),
 T('Y Liu et al. phenotype (screen score)',931,1087,{rot:Math.PI/2,size:25}),
 T('Relative copy number (log₂R)',1206,1098,{size:25}),
 T('Median coding gene phenotype',1208,1389,{size:25}), T('(CRISPR score median within 1Mb)',1210,1420,{size:25}),
 T('d',166,1458,{w:'bold',size:28}),
 T(dTitles[0],437,1492,{w:'bold',size:25}), T(dTitles[1],744,1492,{w:'bold',size:25}), T(dTitles[2],1051,1492,{w:'bold',size:25}), T(dTitles[3],1316,1492,{w:'bold',size:25}),
 T('(min. score)',1316,1524,{size:25}),
 T('Screen score',233,1607,{rot:Math.PI/2,size:25}),
 T('Amplified? (log₂R≥0.3)',306,1748,{align:'right',size:26}),
 T('Overlapping coding exon?',306,1792,{align:'right',size:26}),
 T('Total genes',306,1831,{align:'right',size:26}),
 T('Screen score ≥ 2',306,1870,{align:'right',size:26}),
 T('(Percent total)',306,1900,{align:'right',size:26})
];

const chart = echarts.init(document.getElementById('chart'), null, {renderer:'canvas', width:1419, height:1920});
chart.setOption({backgroundColor:'#fff', animation:false, textStyle:{fontFamily:F},
  grid:grids, xAxis:xAxes, yAxis:yAxes, series, graphic:graphics});
</script></body></html>
